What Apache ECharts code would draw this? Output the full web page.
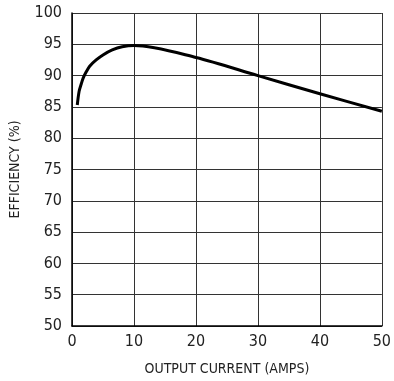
<!DOCTYPE html>
<html>
<head>
<meta charset="utf-8">
<script src="https://cdn.jsdelivr.net/npm/echarts@6/dist/echarts.min.js"></script>
<style>
html, body { margin: 0; padding: 0; background: #fff; }
#chart { width: 394px; height: 381px; }
</style>
</head>
<body>
<div id="chart"></div>
<script>
// efficiency vs output current
var current = [0.85, 1.15, 1.5, 1.8, 2.3, 2.85, 3.9, 5, 6.5, 8.1, 10, 20, 30, 40, 50]
var efficiency = [85.3, 87.5, 88.7, 89.6, 90.6, 91.5, 92.5, 93.3, 94.1, 94.6, 94.8, 92.9, 90.0, 87.1, 84.3]

var font = '"Liberation Sans Narrow", "DejaVu Sans Condensed", Arial, sans-serif'
var chart = echarts.init(document.getElementById('chart'))

chart.setOption({
  animation: false,
  grid: { left: 72, top: 13, right: 6, bottom: 53 },
  xAxis: {
    type: 'value',
    min: 0,
    max: 50,
    interval: 10,
    name: 'OUTPUT CURRENT (AMPS)',
    nameLocation: 'middle',
    nameGap: 36,
    nameTextStyle: { color: '#222', fontFamily: font, fontSize: 14 },
    axisLine: { lineStyle: { color: '#000', width: 1.5 } },
    axisTick: { show: false },
    axisLabel: { color: '#222', fontFamily: font, fontSize: 16, margin: 8 },
    splitLine: { lineStyle: { color: '#333', width: 1 } }
  },
  yAxis: {
    type: 'value',
    min: 50,
    max: 100,
    interval: 5,
    name: 'EFFICIENCY (%)',
    nameLocation: 'middle',
    nameGap: 50,
    nameTextStyle: { color: '#222', fontFamily: font, fontSize: 14 },
    axisLine: { show: true, lineStyle: { color: '#000', width: 1.5 } },
    axisTick: { show: false },
    axisLabel: { color: '#222', fontFamily: font, fontSize: 16, margin: 10 },
    splitLine: { lineStyle: { color: '#333', width: 1 } }
  },
  series: [{
    type: 'line',
    data: current.map(function (c, i) { return [c, efficiency[i]] }),
    smooth: 0.3,
    showSymbol: false,
    lineStyle: { color: '#000', width: 3 }
  }]
})
</script>
</body>
</html>
